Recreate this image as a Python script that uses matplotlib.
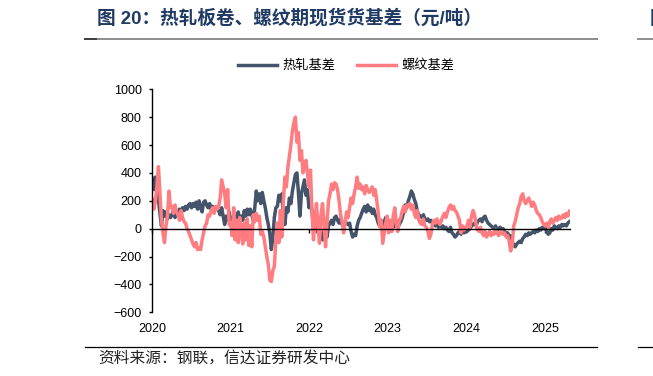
import pandas as pd
import matplotlib
matplotlib.use("Agg")
import matplotlib.pyplot as plt
import matplotlib.dates as mdates
from matplotlib.lines import Line2D

plt.rcParams['font.family'] = ['Liberation Sans', 'Noto Sans CJK SC', 'DejaVu Sans']

# 周度数据（元/吨），按年分段
hrc_2020 = [360, 280, 370, 320, 210, 110, 20, 130, 90, 120, 70, 100, 80,
            100, 130, 80, 120, 100, 140, 110, 150, 130, 160, 140, 170, 180,
            150, 180, 160, 190, 140, 200, 150, 120, 190, 200, 170, 150, 180,
            140, 160, 120, 150, 140, 130, 100, 150, 90, 30, 90, 60, 120]
rebar_2020 = [210, 140, 200, 300, 445, 250, 60, -30, -100, 20, 90, 270, 150,
              160, 110, 170, 120, 100, 60, 130, 80, 50, 40, 0, -20, -50,
              -80, -110, -130, -100, -150, -140, -150, -80, -30, 20, 40, 100, 90,
              130, 150, 110, 160, 140, 160, 220, 350, 300, 250, 150, 280, 30]

hrc_2021 = [20, 60, 100, 50, 80, 120, 60, 90, 60, 130, 90, 140, 100,
            140, 100, 60, 150, 270, 200, 250, 180, 260, 200, 150, 80, 30,
            -40, -150, -60, 80, 150, 160, 240, 200, 250, 80, 30, 150, 120,
            220, 180, 270, 330, 390, 400, 260, 90, 250, 300, 350, 240, 280, 150]
rebar_2021 = [40, -50, 150, -80, 60, -100, 80, -30, -110, 40, -80, 70, -120,
              20, -130, 100, 50, 110, 60, 90, -40, -20, -60, -130, -200, -260,
              -370, -380, -300, -270, -80, 40, -100, 130, -60, 200, 370, 300, 440,
              520, 600, 700, 760, 800, 620, 690, 490, 560, 400, 450, 490, 400, 300]

hrc_2022 = [200, 130, 20, 40, 20, -30, 10, -50, -80, -20, 30, -60, 20,
            40, 60, 30, 80, 90, 60, 40, 70, 30, 20, 50, 40, 30,
            40, -20, -60, -40, -50, 20, 60, 80, 110, 140, 160, 120, 170,
            130, 150, 110, 140, 100, 80, 40, 20, 60, 30, 50, 80, 60]
rebar_2022 = [420, 120, -80, 60, 180, 20, -105, 100, 180, 40, -130, 50, 200,
              250, 320, 280, 330, 320, 280, 200, 100, 50, -30, 40, 120, 80,
              150, 220, 180, 250, 300, 370, 290, 320, 280, 300, 250, 310, 280,
              260, 277, 300, 240, 280, 205, 120, 14, 60, -105, -30, 40, 90]

hrc_2023 = [20, 0, 30, 10, 20, 40, 10, 30, 50, 80, 120, 170, 150,
            200, 230, 270, 250, 210, 180, 120, 100, 90, 80, 100, 70, 60,
            70, 50, 60, 40, 30, 20, 40, 10, 20, 10, 20, 0, 10,
            -10, -20, 10, -30, -40, -60, -50, -30, -20, -40, -10, -30, -20]
rebar_2023 = [-30, 60, -20, 90, 150, 40, -20, 60, 80, 130, 160, 120, 170,
              160, 180, 140, 170, 110, 80, 130, 60, 40, 30, 70, 20, 10,
              -20, -70, -40, 30, 60, 40, 70, 50, 30, 60, 90, 110, 80,
              120, 150, 170, 140, 160, 130, 120, 90, 60, -30, 20, -10, 10]

hrc_2024 = [-20, -10, 0, 20, 30, 40, 20, 50, 60, 70, 50, 80, 90,
            60, 40, 30, 20, 10, 0, 20, -10, 0, 10, -10, 0, -20,
            -40, -30, -60, -50, -90, -120, -130, -110, -100, -90, -100, -70, -60,
            -40, -50, -30, -40, -30, -20, -30, -10, -20, 0, -10, 10, 0]
rebar_2024 = [20, 60, 10, 90, 130, 100, 30, -10, -20, 10, -30, -50, -20,
              -60, -40, -20, -50, -30, -40, -10, -30, -50, -30, -20, -40, -30,
              -60, -50, -90, -160, -120, 20, 50, 100, 150, 180, 230, 250, 200,
              180, 200, 220, 190, 160, 190, 170, 130, 110, 100, 80, 50, 30]

hrc_2025 = [10, -20, -40, -30, 0, -10, 20, 10, 0, 20, 10, 30, 20, 30, 20, 40, 50]
rebar_2025 = [20, 40, 10, 50, 70, 40, 60, 80, 60, 90, 70, 80, 100, 80, 110, 90, 125]

year_starts = ['2020-01-03', '2021-01-01', '2022-01-07', '2023-01-06', '2024-01-05', '2025-01-03']
hrc_years = [hrc_2020, hrc_2021, hrc_2022, hrc_2023, hrc_2024, hrc_2025]
rebar_years = [rebar_2020, rebar_2021, rebar_2022, rebar_2023, rebar_2024, rebar_2025]


def build_series(parts):
    chunks = []
    for start, vals in zip(year_starts, parts):
        idx = pd.date_range(start, periods=len(vals), freq='7D')
        chunks.append(pd.Series(vals, index=idx))
    return pd.concat(chunks)


hrc = build_series(hrc_years)
rebar = build_series(rebar_years)

navy = '#44546A'
pink = '#FF7C80'
title_color = '#1F3A63'

fig = plt.figure(figsize=(6.53, 3.76), dpi=100)
W, H = 653, 376
ax = fig.add_axes([152 / W, 1 - 312.3 / H, (570 - 152) / W, (312.3 - 89.3) / H])

ax.plot(hrc.index, hrc.values, color=navy, lw=2.5, label='热轧基差')
ax.plot(rebar.index, rebar.values, color=pink, lw=2.5, label='螺纹基差')

ax.set_ylim(-600, 1000)
ax.set_yticks(range(-600, 1001, 200))
ax.set_xlim(pd.Timestamp('2020-01-01'), pd.Timestamp('2025-04-28'))

# x 轴线放在 0 处，年份标签放在底部
ax.spines['bottom'].set_position(('data', 0))
ax.spines['bottom'].set_linewidth(1.0)
ax.spines['left'].set_linewidth(1.0)
ax.spines['top'].set_visible(False)
ax.spines['right'].set_visible(False)
ax.xaxis.set_major_locator(mdates.YearLocator())
ax.tick_params(axis='x', direction='out', length=3, width=1, labelbottom=False)
ax.tick_params(axis='y', direction='out', length=2.4, width=1, pad=5, labelsize=9)

sec = ax.secondary_xaxis('bottom')
sec.xaxis.set_major_locator(mdates.YearLocator())
sec.xaxis.set_major_formatter(mdates.DateFormatter('%Y'))
sec.spines['bottom'].set_visible(False)
sec.tick_params(length=0, pad=8, labelsize=9)

fig.legend(loc='center', bbox_to_anchor=(346 / W, 1 - 66 / H), ncol=2, frameon=False,
           fontsize=9.5, handlelength=3.0, handletextpad=0.4, columnspacing=1.6)

# 标题与分隔线
fig.text(97 / W, 1 - 18 / H, '图 20：热轧板卷、螺纹期现货货基差（元/吨）',
         fontsize=13.4, fontweight='bold', color=title_color, va='center', ha='left')
fig.text(650 / W, 1 - 19 / H, '图', fontsize=13.4, fontweight='bold',
         color=title_color, va='center', ha='left')
fig.add_artist(Line2D([85 / W, 597 / W], [1 - 39 / H, 1 - 39 / H], color='#8c8c8c', lw=1.4))
fig.add_artist(Line2D([85 / W, 96 / W], [1 - 39 / H, 1 - 39 / H], color='#404040', lw=1.4))
fig.add_artist(Line2D([638 / W, 1.0], [1 - 39 / H, 1 - 39 / H], color='#8c8c8c', lw=1.4))
fig.add_artist(Line2D([85 / W, 597 / W], [1 - 347 / H, 1 - 347 / H], color='black', lw=0.9))
fig.add_artist(Line2D([638 / W, 1.0], [1 - 347 / H, 1 - 347 / H], color='black', lw=0.9))
fig.text(98 / W, 1 - 358 / H, '资料来源：钢联，信达证券研发中心', fontsize=11.3,
         color='#222222', va='center', ha='left', style='italic')

fig.savefig('out.png', dpi=100)
